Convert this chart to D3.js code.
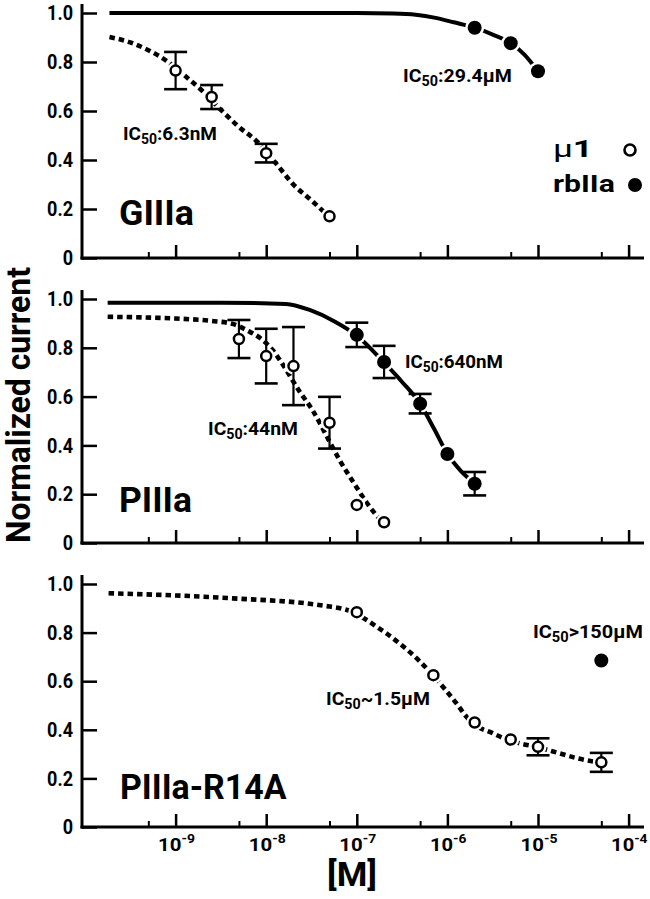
<!DOCTYPE html>
<html>
<head>
<meta charset="utf-8">
<script src="https://cdn.jsdelivr.net/npm/d3@7"></script>
<style>
  html, body { margin: 0; padding: 0; background: #fff; }
  svg { display: block; font-family: "Roboto", "Liberation Sans", sans-serif; }
</style>
</head>
<body>
<svg id="chart" width="650" height="899"></svg>
<script>
// ---------------- data ----------------
const xMajorTicks = [1e-9, 1e-8, 1e-7, 1e-6, 1e-5, 1e-4];
const xMajorExps = ["-9", "-8", "-7", "-6", "-5", "-4"];
const xMinorTicks = [5e-10, 5e-9, 5e-8, 5e-7, 5e-6, 5e-5];
const yTicks = [0, 0.2, 0.4, 0.6, 0.8, 1.0];
const yTickLabels = ["0", "0.2", "0.4", "0.6", "0.8", "1.0"];

// Panel 1: GIIIa
const giiiaMu1Conc = [1e-9, 2.5e-9, 1e-8, 5e-8];
const giiiaMu1Val  = [0.765, 0.657, 0.428, 0.17];
const giiiaMu1Err  = [0.076, 0.049, 0.038, 0];
const giiiaRbConc  = [2e-6, 5e-6, 1e-5];
const giiiaRbVal   = [0.94, 0.877, 0.762];
const giiiaRbErr   = [0, 0, 0];
const giiiaMu1FitLog = [-9.73, -9.5, -9.3, -9.1, -8.9, -8.7, -8.5, -8.3, -8.1, -7.9, -7.7, -7.5, -7.31];
const giiiaMu1FitVal = [0.902, 0.88, 0.848, 0.805, 0.745, 0.68, 0.605, 0.535, 0.475, 0.39, 0.30, 0.235, 0.17];
const giiiaRbFitLog  = [-9.73, -7, -6.6, -6.35, -6.13, -5.93, -5.7, -5.5, -5.3, -5.15, -5.0];
const giiiaRbFitVal  = [1, 1, 0.998, 0.993, 0.98, 0.962, 0.94, 0.912, 0.877, 0.83, 0.762];

// Panel 2: PIIIa
const piiiaMu1Conc = [5e-9, 1e-8, 2e-8, 5e-8, 1e-7, 2e-7];
const piiiaMu1Val  = [0.836, 0.766, 0.725, 0.493, 0.156, 0.085];
const piiiaMu1Err  = [0.078, 0.112, 0.16, 0.106, 0, 0];
const piiiaRbConc  = [1e-7, 2e-7, 5e-7, 1e-6, 2e-6];
const piiiaRbVal   = [0.853, 0.742, 0.571, 0.365, 0.243];
const piiiaRbErr   = [0.05, 0.066, 0.04, 0, 0.048];
const piiiaMu1FitLog = [-9.75, -9, -8.6, -8.37, -8.22, -8.04, -7.93, -7.85, -7.63, -7.49, -7.3, -7.19, -7.04, -6.89, -6.72];
const piiiaMu1FitVal = [0.927, 0.92, 0.91, 0.898, 0.873, 0.832, 0.791, 0.75, 0.62, 0.545, 0.415, 0.34, 0.25, 0.165, 0.085];
const piiiaRbFitLog  = [-9.75, -8.5, -7.78, -7.52, -7.24, -7.0, -6.7, -6.5, -6.3, -6.15, -6.0, -5.85, -5.7];
const piiiaRbFitVal  = [0.985, 0.985, 0.98, 0.955, 0.907, 0.85, 0.74, 0.66, 0.57, 0.47, 0.365, 0.295, 0.245];

// Panel 3: PIIIa-R14A
const r14aMu1Conc = [1e-7, 7e-7, 2e-6, 5e-6, 1e-5, 5e-5];
const r14aMu1Val  = [0.884, 0.625, 0.43, 0.36, 0.33, 0.266];
const r14aMu1Err  = [0, 0, 0, 0, 0.035, 0.039];
const r14aRbConc  = [5e-5];
const r14aRbVal   = [0.685];
const r14aRbErr   = [0];
const r14aMu1FitLog = [-9.74, -8.37, -7.37, -7.04, -6.78, -6.53, -6.30, -6.16, -6.05, -5.90, -5.79, -5.72, -5.5, -5.33, -5.2, -5.02, -4.76, -4.57, -4.32];
const r14aMu1FitVal = [0.962, 0.941, 0.911, 0.884, 0.824, 0.756, 0.68, 0.625, 0.577, 0.509, 0.454, 0.427, 0.386, 0.358, 0.344, 0.33, 0.303, 0.283, 0.265];

// ---------------- layout ----------------
const svg = d3.select("#chart");
const x = d3.scaleLog().domain([1e-10, 1e-4]).range([85, 628.6]);
const axisLeftX = 82, axisRightX = 644;

const panels = [
  { top: 13, bottom: 258, name: "GIIIa", nameX: 119, nameY: 225, nameW: 75,
    mu1: [giiiaMu1Conc, giiiaMu1Val, giiiaMu1Err], rb: [giiiaRbConc, giiiaRbVal, giiiaRbErr],
    mu1Fit: [giiiaMu1FitLog, giiiaMu1FitVal], rbFit: [giiiaRbFitLog, giiiaRbFitVal],
    labels: [
      { pre: "IC", sub: "50", post: ":6.3nM", x: 123, y: 140, w: 94 },
      { pre: "IC", sub: "50", post: ":29.4\u00B5M", x: 403, y: 82, w: 109 }
    ] },
  { top: 299, bottom: 543, name: "PIIIa", nameX: 119, nameY: 512, nameW: 73,
    mu1: [piiiaMu1Conc, piiiaMu1Val, piiiaMu1Err], rb: [piiiaRbConc, piiiaRbVal, piiiaRbErr],
    mu1Fit: [piiiaMu1FitLog, piiiaMu1FitVal], rbFit: [piiiaRbFitLog, piiiaRbFitVal],
    labels: [
      { pre: "IC", sub: "50", post: ":44nM", x: 208, y: 435, w: 90 },
      { pre: "IC", sub: "50", post: ":640nM", x: 405, y: 368, w: 98 }
    ] },
  { top: 584, bottom: 827, name: "PIIIa-R14A", nameX: 120, nameY: 799, nameW: 167,
    mu1: [r14aMu1Conc, r14aMu1Val, r14aMu1Err], rb: [r14aRbConc, r14aRbVal, r14aRbErr],
    mu1Fit: [r14aMu1FitLog, r14aMu1FitVal], rbFit: null,
    labels: [
      { pre: "IC", sub: "50", post: "~1.5\u00B5M", x: 326, y: 705, w: 104 },
      { pre: "IC", sub: "50", post: ">150\u00B5M", x: 533, y: 638, w: 110 }
    ] }
];

function placeLeft(sel, left, y, w) {
  const bb = sel.node().getBBox();
  const s = w / bb.width;
  sel.attr("transform", `translate(${left - bb.x * s},${y}) scale(${s},1)`);
}
function placeCenter(sel, cx, y, w) {
  const bb = sel.node().getBBox();
  const s = w / bb.width;
  sel.attr("transform", `translate(${cx - (bb.x + bb.width / 2) * s},${y}) scale(${s},1)`);
}

const rOpen = 5, rFill = 7, capHalf = 11.5;

panels.forEach((p, pi) => {
  const y = d3.scaleLinear().domain([0, 1]).range([p.bottom, p.top]);
  const g = svg.append("g");

  // y axis
  const ya = g.append("g").attr("transform", `translate(${axisLeftX},0)`)
    .call(d3.axisLeft(y).tickValues(yTicks).tickSize(-15).tickSizeOuter(0).tickPadding(9)
      .tickFormat((d, i) => yTickLabels[i]));
  ya.select(".domain").remove();
  ya.selectAll(".tick line").attr("stroke", "#000").attr("stroke-width", 2.5);
  ya.selectAll(".tick text").attr("font-size", 21).attr("font-weight", 700)
    .attr("fill", "#000").attr("font-family", "Roboto, sans-serif")
    .each(function () {
      const t = d3.select(this);
      t.attr("transform", "scale(0.86,1)").attr("x", -9 / 0.86);
    });

  // x axis ticks
  const xa = g.append("g").attr("transform", `translate(0,${p.bottom})`)
    .call(d3.axisBottom(x).tickValues(xMajorTicks).tickSize(-13).tickSizeOuter(0).tickFormat(""));
  xa.select(".domain").remove();
  xa.selectAll(".tick line").attr("stroke", "#000").attr("stroke-width", 2.5);
  const xm = g.append("g").attr("transform", `translate(0,${p.bottom})`)
    .call(d3.axisBottom(x).tickValues(xMinorTicks).tickSize(-6).tickSizeOuter(0).tickFormat(""));
  xm.select(".domain").remove();
  xm.selectAll(".tick line").attr("stroke", "#000").attr("stroke-width", 2);

  // axis lines
  g.append("line").attr("x1", axisLeftX).attr("x2", axisLeftX)
    .attr("y1", y(1) - 9).attr("y2", p.bottom + 1.5)
    .attr("stroke", "#000").attr("stroke-width", 3);
  g.append("line").attr("x1", axisLeftX - 1.5).attr("x2", axisRightX)
    .attr("y1", p.bottom).attr("y2", p.bottom)
    .attr("stroke", "#000").attr("stroke-width", 3);

  const line = d3.line().x(d => x(Math.pow(10, d[0]))).y(d => y(d[1])).curve(d3.curveMonotoneX);

  if (p.rbFit) {
    g.append("path").datum(p.rbFit[0].map((v, i) => [v, p.rbFit[1][i]]))
      .attr("d", line).attr("fill", "none").attr("stroke", "#000").attr("stroke-width", 4);
  }
  g.append("path").datum(p.mu1Fit[0].map((v, i) => [v, p.mu1Fit[1][i]]))
    .attr("d", line).attr("fill", "none").attr("stroke", "#000").attr("stroke-width", 4.6)
    .attr("stroke-dasharray", "5.5,4");

  const mu1 = p.mu1[0].map((c, i) => ({ c, v: p.mu1[1][i], e: p.mu1[2][i] }));
  const rb = p.rb[0].map((c, i) => ({ c, v: p.rb[1][i], e: p.rb[2][i] }));

  // halos (gap in the fit line around markers)
  g.selectAll(null).data(mu1).enter().append("circle")
    .attr("cx", d => x(d.c)).attr("cy", d => y(d.v)).attr("r", rOpen + 3.5).attr("fill", "#fff");
  g.selectAll(null).data(rb).enter().append("circle")
    .attr("cx", d => x(d.c)).attr("cy", d => y(d.v)).attr("r", rFill + 2.5).attr("fill", "#fff");

  // error bars
  const all = mu1.concat(rb).filter(d => d.e > 0);
  const eb = g.selectAll(null).data(all).enter().append("g");
  eb.append("line").attr("x1", d => x(d.c)).attr("x2", d => x(d.c))
    .attr("y1", d => y(d.v + d.e)).attr("y2", d => y(d.v - d.e))
    .attr("stroke", "#000").attr("stroke-width", 2.2);
  eb.append("line").attr("x1", d => x(d.c) - capHalf).attr("x2", d => x(d.c) + capHalf)
    .attr("y1", d => y(d.v + d.e)).attr("y2", d => y(d.v + d.e))
    .attr("stroke", "#000").attr("stroke-width", 2.6);
  eb.append("line").attr("x1", d => x(d.c) - capHalf).attr("x2", d => x(d.c) + capHalf)
    .attr("y1", d => y(d.v - d.e)).attr("y2", d => y(d.v - d.e))
    .attr("stroke", "#000").attr("stroke-width", 2.6);

  // markers
  g.selectAll(null).data(mu1).enter().append("circle")
    .attr("cx", d => x(d.c)).attr("cy", d => y(d.v)).attr("r", rOpen)
    .attr("fill", "#fff").attr("stroke", "#000").attr("stroke-width", 2.5);
  g.selectAll(null).data(rb).enter().append("circle")
    .attr("cx", d => x(d.c)).attr("cy", d => y(d.v)).attr("r", rFill).attr("fill", "#000");

  // panel name
  const nm = g.append("text").text(p.name).attr("font-size", 35).attr("font-weight", 700).attr("fill", "#000");
  placeLeft(nm, p.nameX, p.nameY, p.nameW);

  // IC50 labels
  p.labels.forEach(l => {
    const t = g.append("text").attr("font-size", 19).attr("font-weight", 700).attr("fill", "#000");
    t.append("tspan").text(l.pre);
    t.append("tspan").text(l.sub).attr("font-size", 14).attr("dy", 4);
    t.append("tspan").text(l.post).attr("dy", -4);
    placeLeft(t, l.x, l.y, l.w);
  });

  // x tick labels on the bottom panel
  if (pi === 2) {
    xMajorTicks.forEach((v, i) => {
      const t = g.append("text").attr("font-size", 19).attr("font-weight", 700).attr("fill", "#000");
      t.append("tspan").text("10");
      t.append("tspan").text(xMajorExps[i]).attr("font-size", 13).attr("dy", -8);
      placeCenter(t, x(v) + 1, 851, 37);
    });
  }
});

// legend (top panel)
const lg = svg.append("g");
const lt1 = lg.append("text").attr("font-size", 23).attr("font-weight", 700).attr("fill", "#000");
lt1.append("tspan").text("\u00B5").attr("font-weight", 400);
lt1.append("tspan").text("1");
placeLeft(lt1, 553, 157, 40);
const lt2 = lg.append("text").text("rbIIa").attr("font-size", 24).attr("font-weight", 700).attr("fill", "#000");
placeLeft(lt2, 553, 192, 62);
lg.append("circle").attr("cx", 630).attr("cy", 150).attr("r", rOpen + 0.5)
  .attr("fill", "#fff").attr("stroke", "#000").attr("stroke-width", 2.6);
lg.append("circle").attr("cx", 635).attr("cy", 185).attr("r", rFill).attr("fill", "#000");

// axis titles
const yl = svg.append("g").attr("transform", "translate(30,405) rotate(-90)");
const ylt = yl.append("text").text("Normalized current").attr("font-size", 33).attr("font-weight", 700)
  .attr("fill", "#000").attr("text-anchor", "middle");
placeCenter(ylt, 0, 0, 276);

const xl = svg.append("text").text("[M]").attr("font-size", 33).attr("font-weight", 700).attr("fill", "#000");
placeCenter(xl, 352, 886, 50);
</script>
</body>
</html>
